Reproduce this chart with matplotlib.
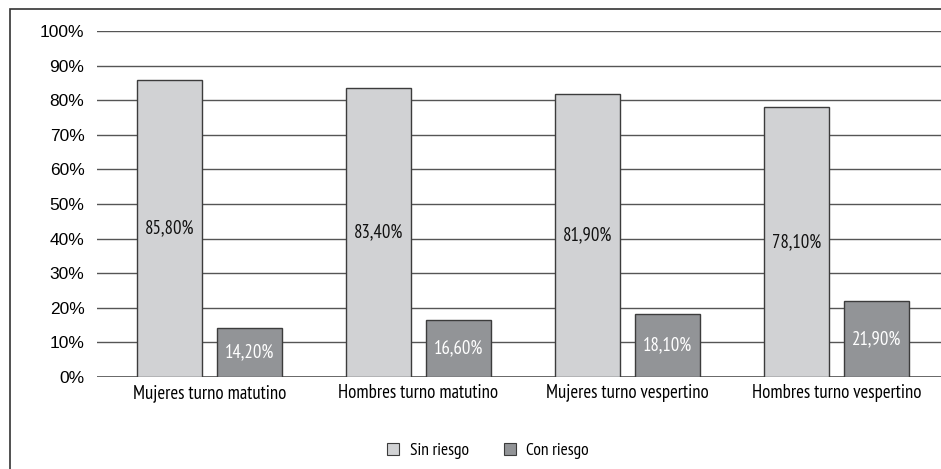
import numpy as np
from matplotlib import pyplot as plt
import matplotlib.patches as patches

# Data
categories = ["Mujeres turno matutino", "Hombres turno matutino",
              "Mujeres turno vespertino", "Hombres turno vespertino"]
sin_riesgo = [85.8, 83.4, 81.9, 78.1]
con_riesgo = [14.2, 16.6, 18.1, 21.9]
series_names = ["Sin riesgo", "Con riesgo"]

light = "#d1d2d4"
dark = "#929497"
edge = "#3c3c3c"
narrow = ["PT Sans Narrow", "DejaVu Sans"]

fig = plt.figure(figsize=(9.41, 4.69), dpi=100)
ax = fig.add_axes([97 / 941, 1 - 377 / 469, 1 - 97 / 941, 346 / 469])

x = np.arange(len(categories))
width = 0.31
offset = 0.19

bars1 = ax.bar(x - offset, sin_riesgo, width, color=light, edgecolor=edge, linewidth=1, zorder=3)
bars2 = ax.bar(x + offset, con_riesgo, width, color=dark, edgecolor=edge, linewidth=1, zorder=3)

for rect, v in zip(bars1, sin_riesgo):
    ax.text(rect.get_x() + rect.get_width() / 2, v / 2, f"{v:.2f}%".replace(".", ","),
            ha="center", va="center", fontsize=13.5, color="#111111", family=narrow, zorder=4)
for rect, v in zip(bars2, con_riesgo):
    ax.text(rect.get_x() + rect.get_width() / 2, v / 2, f"{v:.2f}%".replace(".", ","),
            ha="center", va="center", fontsize=13.5, color="white", family=narrow, zorder=4)

ax.set_xlim(-0.538, 3.5)
ax.set_ylim(0, 100)
ax.set_yticks(np.arange(0, 101, 10))
ax.set_yticklabels([f"{t}%" for t in range(0, 101, 10)], fontsize=12.5, family="Liberation Sans")
ax.set_xticks(x)
ax.set_xticklabels(categories, fontsize=13.5, family=narrow)
ax.tick_params(axis="both", length=0)
ax.tick_params(axis="y", pad=9)
ax.tick_params(axis="x", pad=5)
ax.grid(axis="y", color="#555555", linewidth=1, zorder=0)
for s in ax.spines.values():
    s.set_visible(False)
ax.axhline(0, color="#555555", linewidth=1.2, zorder=2)

# Outer frame
fig.patches.append(patches.Rectangle((10 / 941, -0.1), 1.2, 1 - 9 / 469 + 0.1,
                                     transform=fig.transFigure, fill=False,
                                     edgecolor="#333333", linewidth=1.2))

handles = [patches.Patch(facecolor=light, edgecolor=edge, linewidth=0.8),
           patches.Patch(facecolor=dark, edgecolor=edge, linewidth=0.8)]
fig.legend(handles, series_names, loc="center", bbox_to_anchor=(488 / 941, 1 - 451 / 469),
           ncol=2, frameon=False, prop={"family": narrow, "size": 12.5},
           handlelength=0.7, handleheight=0.7, handletextpad=0.6, columnspacing=2.0)

fig.savefig("out.png", dpi=100)
